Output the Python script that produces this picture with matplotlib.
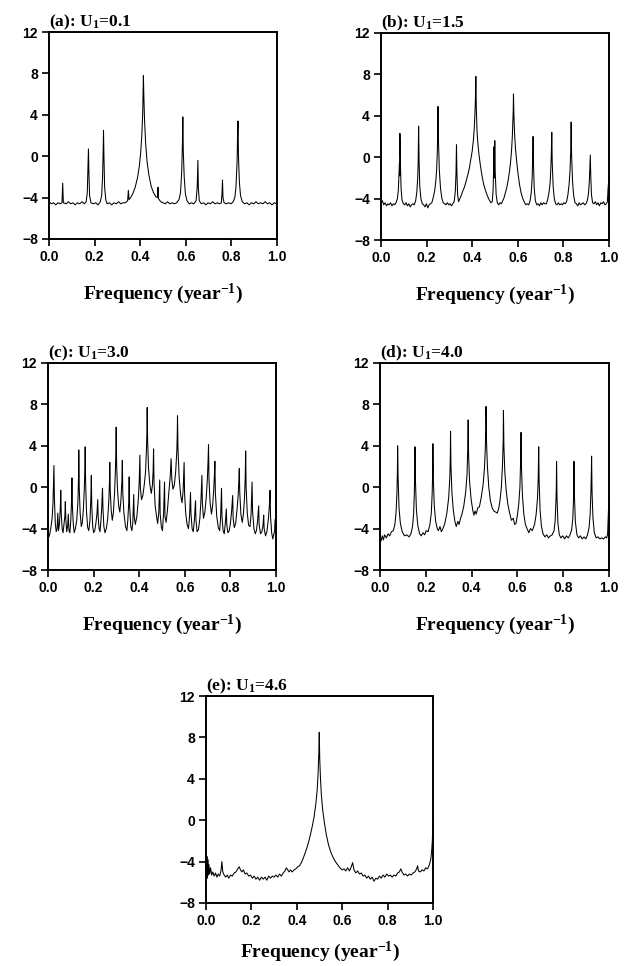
import matplotlib
matplotlib.use("Agg")
import matplotlib.pyplot as plt

plt.rcParams['mathtext.fontset'] = 'custom'
plt.rcParams['mathtext.rm'] = 'Liberation Serif:bold'
plt.rcParams['mathtext.bf'] = 'Liberation Serif:bold'
plt.rcParams['mathtext.it'] = 'Liberation Serif:bold'

# power spectra: (frequency, log power)
panel_a = [
    (0.000, -4.4), (0.010, -4.6), (0.020, -4.5), (0.030, -4.7), (0.040, -4.5), (0.050, -4.6),
    (0.057, -4.5), (0.060, -2.6), (0.063, -4.5), (0.075, -4.6), (0.085, -4.4), (0.095, -4.6),
    (0.105, -4.5), (0.115, -4.7), (0.125, -4.5), (0.135, -4.6), (0.145, -4.4), (0.155, -4.6),
    (0.163, -4.4), (0.168, -3.5), (0.171, -1.0), (0.173, 0.7), (0.175, -1.5), (0.178, -3.8),
    (0.184, -4.5), (0.195, -4.6), (0.205, -4.5), (0.215, -4.7), (0.225, -4.4), (0.231, -3.8),
    (0.235, -2.0), (0.238, 1.0), (0.239, 2.5), (0.241, 0.0), (0.244, -3.0), (0.249, -4.2),
    (0.255, -4.6), (0.265, -4.5), (0.275, -4.7), (0.285, -4.5), (0.295, -4.6), (0.305, -4.4),
    (0.315, -4.6), (0.325, -4.5), (0.335, -4.5), (0.345, -4.3), (0.348, -3.3), (0.351, -4.2),
    (0.358, -4.0), (0.368, -3.6), (0.378, -3.0), (0.388, -2.1), (0.396, -1.0), (0.402, 0.3),
    (0.407, 2.0), (0.411, 4.2), (0.414, 7.8), (0.416, 5.8), (0.419, 3.5), (0.424, 1.2),
    (0.430, -0.5), (0.438, -1.8), (0.448, -2.9), (0.458, -3.5), (0.468, -3.9), (0.476, -4.0),
    (0.478, -3.0), (0.480, -4.1), (0.490, -4.4), (0.500, -4.5), (0.510, -4.6), (0.520, -4.4),
    (0.530, -4.6), (0.540, -4.5), (0.550, -4.6), (0.560, -4.5), (0.570, -4.2), (0.577, -3.5),
    (0.582, -1.5), (0.585, 1.0), (0.587, 3.8), (0.589, 0.5), (0.593, -2.0), (0.598, -3.6),
    (0.605, -4.3), (0.615, -4.6), (0.625, -4.5), (0.635, -4.6), (0.645, -4.3), (0.650, -3.0),
    (0.653, -0.4), (0.655, -3.0), (0.659, -4.3), (0.668, -4.6), (0.678, -4.5), (0.688, -4.7),
    (0.698, -4.5), (0.708, -4.6), (0.718, -4.4), (0.728, -4.6), (0.738, -4.5), (0.748, -4.6),
    (0.756, -4.5), (0.759, -3.5), (0.761, -2.3), (0.763, -4.0), (0.768, -4.5), (0.778, -4.6),
    (0.788, -4.5), (0.798, -4.6), (0.808, -4.4), (0.815, -4.0), (0.820, -3.0), (0.825, -0.5),
    (0.827, 2.0), (0.829, 3.4), (0.831, 0.0), (0.835, -2.5), (0.840, -3.8), (0.848, -4.4),
    (0.858, -4.6), (0.868, -4.5), (0.878, -4.7), (0.888, -4.5), (0.898, -4.6), (0.908, -4.4),
    (0.918, -4.6), (0.928, -4.5), (0.938, -4.6), (0.948, -4.4), (0.958, -4.6), (0.968, -4.5),
    (0.978, -4.7), (0.988, -4.5), (1.000, -4.6),
]

panel_b = [
    (0.000, -4.5), (0.006, -4.2), (0.012, -4.6), (0.018, -4.4), (0.024, -4.7), (0.030, -4.5),
    (0.036, -4.6), (0.042, -4.4), (0.048, -4.7), (0.054, -4.5), (0.060, -4.6), (0.066, -4.4),
    (0.072, -4.0), (0.076, -3.2), (0.079, -1.5), (0.081, -0.5), (0.082, -1.8), (0.083, 2.3),
    (0.085, -0.5), (0.088, -3.0), (0.092, -4.1), (0.098, -4.5), (0.104, -4.6), (0.110, -4.4),
    (0.116, -4.7), (0.122, -4.5), (0.128, -4.8), (0.134, -4.6), (0.140, -4.5), (0.146, -4.6),
    (0.152, -4.2), (0.157, -3.4), (0.161, -2.0), (0.163, -0.5), (0.165, 3.0), (0.167, -0.3),
    (0.170, -2.8), (0.175, -4.0), (0.181, -4.5), (0.187, -4.6), (0.193, -4.8), (0.199, -4.5),
    (0.205, -4.9), (0.211, -4.6), (0.217, -4.5), (0.223, -4.4), (0.229, -3.9), (0.235, -3.3),
    (0.240, -2.4), (0.244, -1.2), (0.247, 0.5), (0.249, 3.0), (0.250, 4.9), (0.252, 1.6),
    (0.256, -1.3), (0.261, -3.0), (0.267, -4.0), (0.273, -4.4), (0.279, -4.5), (0.285, -4.6),
    (0.291, -4.4), (0.297, -4.6), (0.303, -4.5), (0.309, -4.7), (0.315, -4.5), (0.321, -4.3),
    (0.326, -3.3), (0.329, -1.5), (0.330, -0.2), (0.331, 1.2), (0.333, -1.5), (0.336, -3.6),
    (0.340, -4.3), (0.346, -4.0), (0.352, -3.7), (0.358, -3.3), (0.364, -3.0), (0.370, -2.6),
    (0.376, -2.1), (0.382, -1.6), (0.388, -1.0), (0.394, -0.2), (0.400, 0.6), (0.405, 1.6),
    (0.409, 2.8), (0.412, 4.2), (0.414, 5.5), (0.416, 7.8), (0.418, 4.8), (0.421, 2.6),
    (0.425, 1.3), (0.430, 0.2), (0.436, -0.8), (0.443, -1.8), (0.450, -2.6), (0.458, -3.2),
    (0.466, -3.7), (0.474, -4.1), (0.482, -4.4), (0.488, -4.3), (0.492, -3.0), (0.494, -1.0),
    (0.495, 1.0), (0.497, -2.0), (0.498, -0.5), (0.499, 1.6), (0.501, -1.5), (0.505, -3.6),
    (0.510, -4.4), (0.516, -4.6), (0.522, -4.4), (0.528, -4.5), (0.534, -4.2), (0.540, -3.9),
    (0.546, -3.4), (0.552, -2.9), (0.558, -2.2), (0.564, -1.3), (0.569, -0.3), (0.573, 0.8),
    (0.576, 2.0), (0.578, 3.3), (0.580, 4.5), (0.581, 6.1), (0.583, 4.0), (0.586, 2.2),
    (0.590, 0.8), (0.595, -0.4), (0.601, -1.6), (0.608, -2.7), (0.615, -3.5), (0.622, -4.0),
    (0.630, -4.4), (0.636, -4.6), (0.642, -4.5), (0.648, -4.6), (0.654, -4.2), (0.659, -3.4),
    (0.663, -2.0), (0.665, -0.3), (0.667, 2.0), (0.669, -0.8), (0.672, -3.0), (0.677, -4.2),
    (0.683, -4.6), (0.689, -4.5), (0.695, -4.7), (0.701, -4.4), (0.707, -4.6), (0.713, -4.4),
    (0.719, -4.5), (0.725, -4.5), (0.731, -4.1), (0.737, -3.4), (0.742, -2.4), (0.745, -1.0),
    (0.747, 0.3), (0.749, 2.4), (0.751, -0.5), (0.755, -2.8), (0.760, -4.0), (0.766, -4.5),
    (0.772, -4.6), (0.778, -4.4), (0.784, -4.6), (0.790, -4.5), (0.796, -4.6), (0.802, -4.4),
    (0.808, -4.5), (0.814, -4.3), (0.820, -3.6), (0.825, -2.6), (0.829, -1.3), (0.832, 0.5),
    (0.834, 3.4), (0.836, 0.2), (0.840, -2.3), (0.845, -3.7), (0.851, -4.4), (0.857, -4.5),
    (0.863, -4.7), (0.869, -4.4), (0.875, -4.6), (0.881, -4.5), (0.887, -4.4), (0.893, -4.6),
    (0.899, -4.5), (0.905, -4.2), (0.910, -3.5), (0.914, -2.2), (0.916, -1.0), (0.918, 0.2),
    (0.920, -1.8), (0.923, -3.6), (0.928, -4.4), (0.934, -4.5), (0.940, -4.3), (0.946, -4.6),
    (0.952, -4.4), (0.958, -4.7), (0.964, -4.4), (0.970, -4.5), (0.976, -4.3), (0.982, -4.6),
    (0.988, -4.5), (0.993, -4.3), (0.996, -3.0), (1.000, -1.9),
]

panel_c = [
    (0.000, -4.2), (0.004, -4.8), (0.008, -4.5), (0.012, -4.0), (0.018, -3.0), (0.022, -1.5),
    (0.026, 2.1), (0.028, -1.0), (0.032, -3.5), (0.036, -4.3), (0.040, -4.0), (0.043, -2.5),
    (0.046, -4.2), (0.050, -3.6), (0.054, -2.0), (0.056, -0.3), (0.058, -2.5), (0.062, -4.0),
    (0.066, -4.4), (0.070, -3.6), (0.074, -2.8), (0.076, -1.4), (0.078, -3.0), (0.082, -4.3),
    (0.086, -3.8), (0.089, -2.6), (0.092, -4.2), (0.096, -4.4), (0.100, -3.2), (0.103, -1.5),
    (0.105, 0.9), (0.107, -1.8), (0.111, -3.6), (0.115, -4.4), (0.120, -4.0), (0.126, -3.2),
    (0.131, -1.5), (0.134, 1.0), (0.135, 3.6), (0.137, 0.0), (0.141, -2.5), (0.146, -3.8),
    (0.150, -3.5), (0.155, -2.2), (0.159, -0.3), (0.162, 2.0), (0.163, 3.9), (0.165, 0.5),
    (0.169, -2.4), (0.174, -3.9), (0.179, -4.2), (0.184, -3.2), (0.188, -1.0), (0.190, 1.15),
    (0.192, -1.8), (0.196, -3.8), (0.200, -4.4), (0.205, -4.2), (0.210, -3.5), (0.215, -2.5),
    (0.218, -1.2), (0.220, -2.8), (0.224, -4.0), (0.228, -4.3), (0.232, -3.3), (0.236, -1.8),
    (0.239, -0.1), (0.241, -2.0), (0.245, -3.8), (0.250, -4.4), (0.256, -4.0), (0.262, -3.0),
    (0.267, -1.2), (0.270, 0.8), (0.271, 2.4), (0.273, -0.3), (0.277, -2.2), (0.282, -3.2),
    (0.287, -2.4), (0.292, -0.5), (0.296, 1.8), (0.298, 3.8), (0.299, 5.8), (0.301, 2.2),
    (0.305, -0.3), (0.310, -1.8), (0.315, -2.4), (0.320, -1.2), (0.324, 0.6), (0.326, 2.6),
    (0.328, -0.5), (0.333, -2.5), (0.340, -3.8), (0.346, -4.2), (0.350, -3.2), (0.354, -1.5),
    (0.356, 1.0), (0.358, -1.8), (0.363, -3.8), (0.368, -4.2), (0.372, -3.4), (0.376, -0.7),
    (0.378, -2.8), (0.383, -3.6), (0.390, -2.8), (0.396, -1.2), (0.400, 0.5), (0.403, 3.1),
    (0.405, 0.0), (0.410, -1.2), (0.416, -0.8), (0.422, 0.2), (0.428, 1.5), (0.432, 3.8),
    (0.434, 5.5), (0.435, 7.7), (0.437, 4.5), (0.441, 1.8), (0.447, 0.2), (0.453, -0.6),
    (0.458, 0.2), (0.461, 1.5), (0.463, 3.7), (0.465, 0.5), (0.470, -1.8), (0.476, -2.8),
    (0.481, -3.5), (0.486, -2.4), (0.490, 0.7), (0.492, -2.6), (0.497, -3.8), (0.502, -4.2),
    (0.507, -2.5), (0.511, 0.5), (0.513, -2.8), (0.518, -3.4), (0.524, -2.2), (0.530, -0.5),
    (0.536, 1.0), (0.540, 2.75), (0.543, 0.8), (0.548, -0.2), (0.554, 0.2), (0.560, 1.5),
    (0.565, 3.5), (0.567, 5.2), (0.568, 6.9), (0.570, 3.8), (0.575, 1.0), (0.582, -0.8),
    (0.588, -1.5), (0.593, -0.2), (0.597, 2.4), (0.599, -0.6), (0.604, -2.5), (0.610, -3.6),
    (0.616, -4.0), (0.621, -2.8), (0.625, -0.5), (0.627, -2.5), (0.632, -4.0), (0.637, -4.3),
    (0.642, -3.2), (0.647, -1.3), (0.649, -3.2), (0.654, -4.3), (0.660, -4.1), (0.666, -3.0),
    (0.671, -1.2), (0.675, 1.15), (0.677, -1.5), (0.682, -3.0), (0.688, -2.4), (0.694, -1.0),
    (0.699, 0.8), (0.702, 2.5), (0.704, 4.1), (0.706, 0.8), (0.711, -1.5), (0.717, -2.6),
    (0.722, -1.8), (0.727, -0.2), (0.730, 1.2), (0.732, 2.5), (0.734, -0.5), (0.740, -2.8),
    (0.747, -3.9), (0.753, -4.2), (0.757, -3.0), (0.761, -0.1), (0.763, -2.8), (0.768, -4.2),
    (0.773, -4.5), (0.778, -3.4), (0.782, -2.1), (0.784, -3.6), (0.789, -4.4), (0.795, -4.2),
    (0.800, -3.5), (0.805, -2.4), (0.810, -0.8), (0.812, -3.0), (0.817, -3.9), (0.823, -3.5),
    (0.829, -2.2), (0.834, -0.8), (0.837, 0.6), (0.839, 1.8), (0.841, -0.5), (0.846, -2.6),
    (0.852, -3.4), (0.857, -2.6), (0.862, -1.0), (0.865, 1.0), (0.867, 3.5), (0.869, 0.0),
    (0.874, -2.5), (0.880, -3.7), (0.886, -3.8), (0.891, -2.5), (0.895, 0.5), (0.897, -2.2),
    (0.903, -4.0), (0.909, -4.5), (0.914, -4.2), (0.919, -3.3), (0.924, -1.8), (0.926, -3.6),
    (0.932, -4.5), (0.938, -4.3), (0.943, -3.7), (0.946, -2.7), (0.948, -4.0), (0.954, -4.7),
    (0.960, -4.3), (0.966, -3.2), (0.971, -1.8), (0.974, -0.3), (0.976, -2.8), (0.981, -4.4),
    (0.986, -5.0), (0.990, -4.6), (0.994, -4.2), (0.996, -3.1), (1.000, -4.0),
]

panel_d = [
    (0.000, -4.8), (0.005, -5.2), (0.010, -4.7), (0.015, -5.1), (0.020, -4.6), (0.028, -4.9),
    (0.035, -4.5), (0.042, -4.7), (0.050, -4.3), (0.058, -4.2), (0.065, -3.6), (0.070, -2.5),
    (0.074, -0.5), (0.076, 1.5), (0.077, 4.0), (0.079, 1.0), (0.083, -2.0), (0.089, -3.5),
    (0.097, -4.3), (0.107, -4.7), (0.117, -4.6), (0.127, -4.8), (0.135, -4.5), (0.142, -3.8),
    (0.147, -2.5), (0.150, -0.5), (0.152, 2.0), (0.153, 3.9), (0.155, 0.5), (0.159, -2.2),
    (0.165, -3.7), (0.173, -4.5), (0.180, -4.7), (0.188, -4.4), (0.195, -4.6), (0.202, -4.2),
    (0.210, -4.3), (0.218, -3.6), (0.224, -2.5), (0.228, -0.5), (0.230, 1.5), (0.231, 4.2),
    (0.233, 0.8), (0.237, -1.8), (0.243, -3.3), (0.250, -4.0), (0.255, -4.2), (0.262, -3.8),
    (0.268, -4.3), (0.275, -4.0), (0.283, -3.5), (0.292, -2.5), (0.300, -1.0), (0.305, 1.0),
    (0.307, 3.0), (0.308, 5.4), (0.310, 2.0), (0.314, -0.5), (0.320, -2.2), (0.327, -3.3),
    (0.333, -3.8), (0.340, -3.3), (0.345, -3.6), (0.352, -3.0), (0.358, -2.6), (0.366, -1.8),
    (0.374, -0.5), (0.380, 1.2), (0.383, 3.5), (0.385, 6.5), (0.387, 3.0), (0.391, 0.6),
    (0.398, -1.2), (0.405, -2.2), (0.410, -2.7), (0.415, -2.3), (0.420, -2.6), (0.427, -2.0),
    (0.434, -1.9), (0.442, -1.0), (0.450, 0.2), (0.456, 1.8), (0.460, 3.8), (0.462, 5.5),
    (0.463, 7.8), (0.465, 4.5), (0.469, 2.0), (0.475, 0.0), (0.482, -1.3), (0.490, -2.0),
    (0.497, -2.3), (0.505, -2.4), (0.512, -2.5), (0.518, -2.1), (0.524, -1.3), (0.530, 0.0),
    (0.535, 2.2), (0.538, 4.5), (0.539, 7.4), (0.541, 4.0), (0.545, 1.5), (0.551, -0.3),
    (0.558, -1.6), (0.566, -2.5), (0.574, -3.2), (0.582, -3.0), (0.588, -3.6), (0.594, -3.5),
    (0.600, -2.7), (0.606, -1.6), (0.611, 0.0), (0.614, 2.5), (0.616, 5.3), (0.618, 1.8),
    (0.622, -0.8), (0.628, -2.6), (0.635, -3.6), (0.642, -4.0), (0.650, -4.4), (0.657, -4.0),
    (0.665, -4.2), (0.675, -3.6), (0.682, -2.6), (0.688, -1.0), (0.691, 1.0), (0.693, 3.9),
    (0.695, 0.5), (0.699, -2.2), (0.705, -3.8), (0.712, -4.5), (0.720, -4.8), (0.728, -4.6),
    (0.736, -4.9), (0.744, -4.7), (0.752, -4.6), (0.760, -4.2), (0.765, -3.2), (0.768, -1.5),
    (0.770, 0.0), (0.771, 2.5), (0.773, -1.0), (0.777, -3.5), (0.783, -4.6), (0.790, -4.9),
    (0.798, -4.7), (0.806, -5.0), (0.814, -4.7), (0.822, -4.9), (0.830, -4.6), (0.837, -4.1),
    (0.842, -3.0), (0.845, -1.2), (0.846, 0.5), (0.847, 2.5), (0.849, -0.8), (0.853, -3.3),
    (0.860, -4.6), (0.867, -4.9), (0.875, -4.7), (0.883, -5.0), (0.891, -4.8), (0.899, -5.0),
    (0.906, -4.6), (0.913, -3.9), (0.918, -2.5), (0.921, -0.5), (0.923, 1.5), (0.924, 3.0),
    (0.926, -0.5), (0.930, -3.0), (0.936, -4.4), (0.944, -4.9), (0.952, -4.8), (0.960, -5.0),
    (0.968, -4.9), (0.976, -5.0), (0.984, -4.8), (0.990, -4.9), (0.994, -4.5), (0.997, -2.5),
    (1.000, -0.8),
]

panel_e = [
    (0.000, -2.5), (0.002, -5.2), (0.004, -3.5), (0.006, -5.6), (0.008, -3.8), (0.010, -5.3),
    (0.013, -4.3), (0.016, -5.2), (0.020, -4.6), (0.025, -5.3), (0.030, -5.0), (0.036, -5.4),
    (0.042, -5.1), (0.048, -5.5), (0.054, -5.2), (0.060, -5.4), (0.066, -4.9), (0.070, -4.0),
    (0.074, -5.0), (0.080, -5.3), (0.087, -5.5), (0.094, -5.3), (0.100, -5.6), (0.108, -5.3),
    (0.116, -5.4), (0.124, -5.1), (0.132, -5.0), (0.140, -4.7), (0.146, -4.5), (0.152, -4.8),
    (0.158, -5.0), (0.165, -4.8), (0.172, -5.2), (0.180, -5.1), (0.188, -5.4), (0.196, -5.3),
    (0.204, -5.6), (0.212, -5.4), (0.220, -5.7), (0.228, -5.5), (0.236, -5.8), (0.244, -5.5),
    (0.252, -5.7), (0.260, -5.5), (0.268, -5.8), (0.276, -5.4), (0.284, -5.6), (0.292, -5.4),
    (0.300, -5.5), (0.308, -5.3), (0.316, -5.5), (0.324, -5.2), (0.332, -5.4), (0.340, -5.1),
    (0.348, -4.9), (0.354, -4.6), (0.360, -4.8), (0.366, -5.0), (0.372, -4.8), (0.380, -5.0),
    (0.388, -4.8), (0.396, -4.7), (0.404, -4.5), (0.412, -4.4), (0.420, -4.1), (0.428, -3.7),
    (0.436, -3.2), (0.444, -2.7), (0.452, -2.1), (0.460, -1.4), (0.468, -0.6), (0.476, 0.3),
    (0.484, 1.6), (0.490, 3.0), (0.494, 4.6), (0.497, 6.5), (0.499, 8.5), (0.501, 6.0),
    (0.504, 4.2), (0.508, 2.5), (0.514, 1.0), (0.522, -0.3), (0.530, -1.4), (0.540, -2.4),
    (0.550, -3.1), (0.560, -3.6), (0.570, -4.0), (0.580, -4.3), (0.590, -4.6), (0.600, -4.8),
    (0.608, -4.7), (0.616, -4.9), (0.624, -4.6), (0.632, -4.9), (0.640, -4.5), (0.646, -4.1),
    (0.652, -4.8), (0.660, -5.1), (0.668, -4.9), (0.676, -5.2), (0.684, -5.1), (0.692, -5.4),
    (0.700, -5.3), (0.708, -5.6), (0.716, -5.4), (0.724, -5.7), (0.732, -5.5), (0.740, -5.9),
    (0.748, -5.6), (0.756, -5.7), (0.764, -5.4), (0.772, -5.6), (0.780, -5.3), (0.788, -5.5),
    (0.796, -5.2), (0.804, -5.4), (0.812, -5.3), (0.820, -5.5), (0.828, -5.3), (0.836, -5.4),
    (0.844, -5.1), (0.852, -5.0), (0.858, -4.7), (0.864, -5.0), (0.872, -5.3), (0.880, -5.2),
    (0.888, -5.4), (0.896, -5.2), (0.904, -5.3), (0.912, -5.1), (0.920, -5.0), (0.928, -4.7),
    (0.932, -4.4), (0.936, -4.9), (0.944, -5.0), (0.952, -4.8), (0.960, -4.9), (0.968, -4.6),
    (0.976, -4.7), (0.984, -4.3), (0.990, -3.8), (0.994, -3.0), (0.997, -2.0), (1.000, 0.0),
]

titles = ["(a): $\\mathbf{U_1}$=0.1", "(b): $\\mathbf{U_1}$=1.5", "(c): $\\mathbf{U_1}$=3.0",
          "(d): $\\mathbf{U_1}$=4.0", "(e): $\\mathbf{U_1}$=4.6"]
x_ticks = [0.0, 0.2, 0.4, 0.6, 0.8, 1.0]
y_ticks = [12, 8, 4, 0, -4, -8]

W, H = 628, 966
# axes boxes in pixels: left, top, right, bottom, xlabel pad
boxes = [(49, 32, 277, 239, 13), (381, 33, 609, 240, 13), (48, 363, 276, 570, 13),
         (380, 363, 609, 570, 13), (206, 696, 433, 903, 8)]

fig = plt.figure(figsize=(W / 100, H / 100), dpi=100)

for data, title, (l, t, r, b, lp) in zip([panel_a, panel_b, panel_c, panel_d, panel_e], titles, boxes):
    ax = fig.add_axes([l / W, 1 - b / H, (r - l) / W, (b - t) / H])
    freq, power = zip(*data)
    ax.plot(freq, power, color='black', lw=0.75)
    ax.set_xlim(0, 1)
    ax.set_ylim(-8, 12)
    ax.set_xticks(x_ticks)
    ax.set_xticklabels([f"{v:.1f}" for v in x_ticks])
    ax.set_yticks(y_ticks)
    ax.tick_params(direction='out', length=5, width=1.2, labelsize=10, pad=3)
    for lab in ax.get_xticklabels() + ax.get_yticklabels():
        lab.set_fontfamily('Liberation Sans')
        lab.set_fontweight('bold')
    for sp in ax.spines.values():
        sp.set_linewidth(1.4)
    ax.set_title(title, loc='left', fontsize=12.5, fontweight='bold',
                 family='Liberation Serif', pad=2, x=0.0)
    ax.set_xlabel("Frequency (year$^{\\mathbf{-1}}$)", fontsize=14, fontweight='bold',
                  family='Liberation Serif', labelpad=lp)

fig.savefig("out.png", dpi=100)
